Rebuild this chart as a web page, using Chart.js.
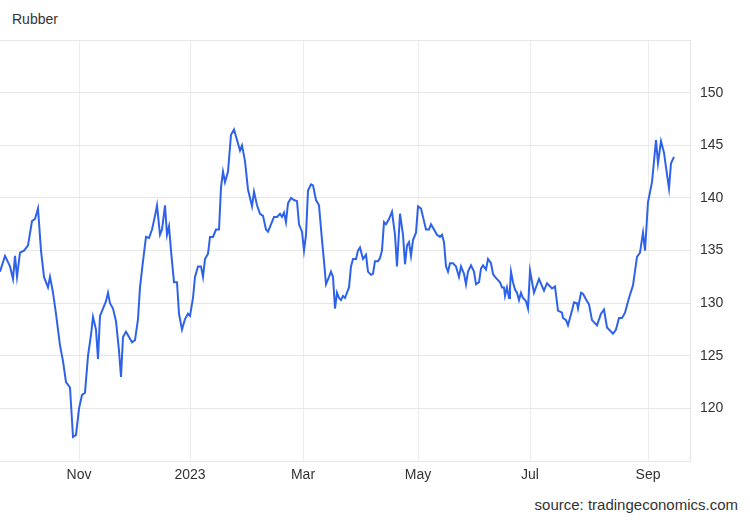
<!DOCTYPE html>
<html>
<head>
<meta charset="utf-8">
<script src="https://cdn.jsdelivr.net/npm/chart.js@4"></script>
<style>
  body { margin: 0; width: 750px; height: 520px; position: relative; background: #fff; font-family: "Liberation Sans", Arial, sans-serif; overflow: hidden; }
  #title { position: absolute; left: 12px; top: 11px; font-size: 14px; color: #333; }
  #source { position: absolute; right: 12px; top: 496px; font-size: 15px; color: #333; }
  #wrap { position: absolute; left: 0; top: 0; width: 750px; height: 490px; }
</style>
</head>
<body>
<div id="title">Rubber</div>
<div id="source">source: tradingeconomics.com</div>
<div id="wrap"><canvas id="chart"></canvas></div>
<script>
// horizontal position along the time axis (Sep 2022 -> Sep 2023)
const t = [0,5,10,13,15,17,20,24,28,32,35,38,41,44,48,50,53,56,60,63,66,70,73,76,79,82,85,88,91,93,96,98,100,103,106,108,110,113,116,119,121,123,126,129,132,135,138,140,143,146,149,152,155,157,160,162,165,167,169,171,174,177,179,182,185,188,190,193,195,198,201,203,205,208,210,213,216,219,221,223,225,228,231,234,237,240,242,245,248,252,254,257,260,263,266,268,271,274,277,280,282,284,286,288,291,294,297,299,302,304,306,308,311,313,316,319,322,324,326,329,331,333,335,337,339,341,343,345,347,349,351,353,356,358,360,363,366,368,371,373,375,378,380,382,384,386,389,392,395,397,400,403,405,407,409,411,413,416,418,421,424,426,429,431,434,437,440,442,444,446,448,450,453,456,459,461,464,466,468,471,474,476,479,481,483,486,488,491,493,495,498,500,502,504,505,507,509,510,511,513,515,517,519,521,523,526,528,530,534,539,544,547,552,555,558,562,563,566,568,572,574,577,578,581,583,587,589,592,597,601,604,607,613,616,619,622,625,629,633,637,640,643,645,648,652,656,658,661,664,666,669,671,674];
const rubber = [133,134.5,133.5,132.3,134.5,132.5,134.8,135,135.5,137.8,138,139,135,132.5,131.5,132.5,131,129,126,124.5,122.5,122,117.3,117.5,120,121.3,121.5,125,127,128.7,127.5,124.7,128.8,129.5,130.2,131,130,129.5,128.3,125.5,123,126.8,127.3,126.8,126.3,126.5,128.5,131.5,134,136.3,136.2,137,138.3,139.3,136.5,137,139.3,136.5,137.3,135,132,132,129,127.5,128.5,129,128.8,130.5,132.5,133.5,133.5,132.5,134.2,134.7,136.3,136.3,137,137,141,142.5,141.5,142.5,146,146.5,145.5,144.5,145,143.5,140.8,139.2,140.6,139.3,138.5,138.3,137,136.8,137.5,138.2,138.2,138.5,138.2,138.6,137.7,139.5,140,139.8,139.7,137.5,136.8,135,136.5,140.7,141.3,141.2,139.8,139.3,136,134,131.8,132.5,133,132.5,129.5,131,130.5,130.3,130.7,130.5,131,131.5,133.5,134.2,134.2,135,135.3,134.2,134.6,133,132.7,132.8,134,134,134.3,135,137.7,137.5,138,138.7,136.5,133.5,138.5,136.5,133.7,135.5,135.8,134.5,136,136.7,139.2,139,137.8,137,137,137.5,137,136.5,136.3,136.5,135.8,133.5,133,133.8,133.8,133.5,132.5,133.5,132.8,131.8,133,133.6,133,131.8,132,133.3,133.6,133.2,134.2,133.8,132.8,132.5,132.2,132,131.5,131.5,130.7,131.5,130.5,131.5,133,132,131.3,131,130.3,131,130.5,130.2,129.5,133.1,131,132.3,131.2,131.9,131.4,131.6,129.3,129.1,128.6,128.4,127.9,129.3,130.1,130,129.5,131,130.9,130.2,129.9,128.4,127.9,129,129.4,127.7,127.1,127.5,128.6,128.6,129.1,130.5,131.7,134.4,134.8,136.7,135,139.6,141.5,145.5,143.3,145.4,144.3,142.9,140.9,143.3,143.9];
const monthTicks = [79, 190, 303, 418, 530, 648];
const monthLabels = ["Nov", "2023", "Mar", "May", "Jul", "Sep"];
const yTicks = [115, 120, 125, 130, 135, 140, 145, 150, 155];

const points = t.map((x, i) => ({ x: x, y: rubber[i] }));

new Chart(document.getElementById("chart"), {
    type: "line",
    data: {
        datasets: [{
            data: points,
            borderColor: "#2e62e8",
            borderWidth: 2,
            pointRadius: 0,
            tension: 0,
            fill: false
        }]
    },
    options: {
        responsive: true,
        maintainAspectRatio: false,
        animation: false,
        layout: { padding: { top: 40, left: 0, right: 0, bottom: 0 } },
        plugins: { legend: { display: false }, tooltip: { enabled: false } },
        scales: {
            x: {
                type: "linear",
                min: 0,
                max: 690,
                afterBuildTicks: axis => { axis.ticks = monthTicks.map(v => ({ value: v })); },
                ticks: {
                    autoSkip: false,
                    maxRotation: 0,
                    color: "#333",
                    font: { family: "Liberation Sans", size: 14 },
                    padding: 6,
                    callback: v => monthLabels[monthTicks.indexOf(v)]
                },
                grid: { color: "#ececec", drawTicks: false },
                border: { display: false }
            },
            y: {
                position: "right",
                min: 115,
                max: 155,
                afterBuildTicks: axis => { axis.ticks = yTicks.map(v => ({ value: v })); },
                afterFit: axis => { axis.width = 60; },
                ticks: {
                    color: "#333",
                    font: { family: "Liberation Sans", size: 14 },
                    padding: 10,
                    callback: v => (v === 115 || v === 155) ? "" : v
                },
                grid: { color: "#e6e6e6", drawTicks: false },
                border: { display: true, color: "#e6e6e6" }
            }
        }
    }
});
</script>
</body>
</html>
